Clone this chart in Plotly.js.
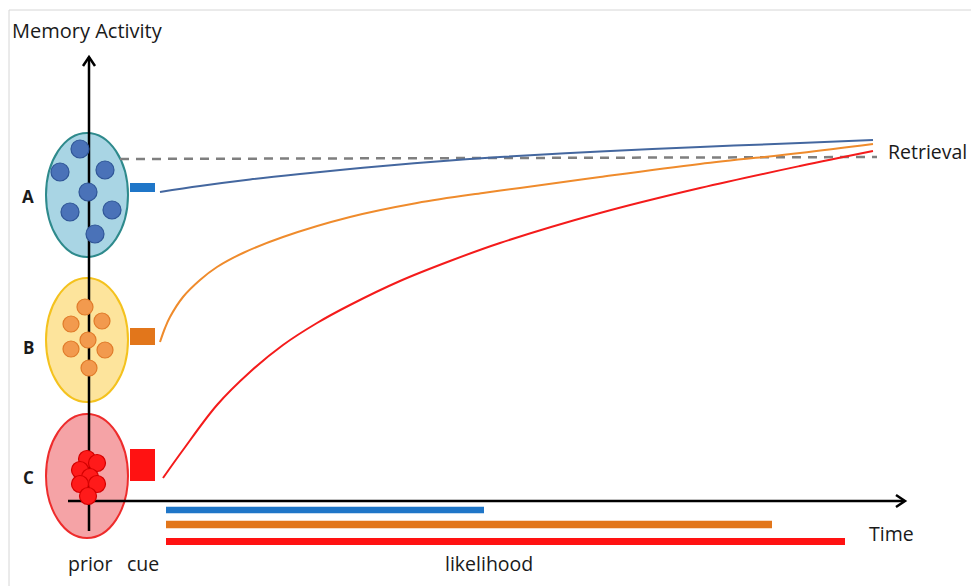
<!DOCTYPE html>
<html>
<head>
<meta charset="utf-8">
<script src="https://cdn.plot.ly/plotly-3.0.1.min.js"></script>
<style>html,body{margin:0;padding:0;background:#fff}#chart{width:971px;height:586px}</style>
</head>
<body>
<div id="chart"></div>
<script>
// ---- Data (diagram units) ----
const memoryLabels = ["A", "B", "C"];
const memoryColors = {fill: ["#a9d5e4", "#fde49c", "#f5a3a6"], edge: ["#2e8a8c", "#f4c21e", "#ee2c2c"]};
const priorCenterY = [195, 340, 476];

// dots inside each prior representation
const dotsA_x = [80, 60, 105, 88, 70, 112, 95];
const dotsA_y = [149, 172, 170, 192, 212, 210, 234];
const dotsB_x = [85, 71, 102, 88, 71, 105, 89];
const dotsB_y = [307, 324, 321, 340, 349, 350, 368];
const dotsC_x = [87, 97, 80, 90, 80, 97, 88];
const dotsC_y = [459, 463, 470, 477, 484, 484, 496];

// cue strength (rectangle heights)
const cueTop = [183, 328, 449];
const cueBottom = [192, 345, 481];

// activity curves over time
const timeA = [160, 200, 250, 300, 350, 400, 450, 500, 600, 700, 800, 873];
const activityA = [192, 186, 179.5, 174, 169, 164.5, 160.5, 157, 151.5, 147, 143, 140];
const timeB = [160, 165, 170, 183, 200, 217, 243, 283, 350, 417, 483, 520, 600, 700, 800, 873];
const activityB = [342, 328, 317, 297, 280, 267, 253, 237, 217, 203, 193, 188, 177, 164, 153, 144];
const timeC = [163, 183, 217, 250, 283, 317, 350, 400, 450, 500, 600, 700, 800, 873];
const activityC = [478, 450, 405, 372, 345, 323, 305, 281, 261, 243, 213, 188, 166, 151];

// retrieval threshold
const thresholdX = [120, 877];
const thresholdY = [159, 157];

// likelihood durations
const likelihoodStart = 166;
const likelihoodEnd = [484, 772, 845];
const likelihoodY = [510, 524.5, 541.5];

const curveColors = ["#44679f", "#ef8b2c", "#f41b1b"];
const cueColors = ["#1f76c8", "#e2761b", "#ff1212"];
const dotFill = ["#4a72b8", "#f29a4e", "#ff1a1a"];
const dotEdge = ["#2f5597", "#e07b2a", "#d40000"];

// ---- Build ----
const FONT = "Open Sans, Liberation Sans, sans-serif";
const traces = [];
// axes lines
const yAxisX = 89, xAxisY = 501;
traces.push({x: [yAxisX, yAxisX], y: [531, 57], mode: "lines", line: {color: "#000", width: 2.5}, hoverinfo: "skip"});
traces.push({x: [68, 904], y: [xAxisY, xAxisY], mode: "lines", line: {color: "#000", width: 2.5}, hoverinfo: "skip"});
// arrow chevrons
traces.push({x: [yAxisX - 6, yAxisX, yAxisX + 6], y: [66, 57, 66], mode: "lines", line: {color: "#000", width: 2.5}, hoverinfo: "skip"});
traces.push({x: [896, 905, 896], y: [495, xAxisY, 507], mode: "lines", line: {color: "#000", width: 2.5}, hoverinfo: "skip"});

// dots
const dotsX = [dotsA_x, dotsB_x, dotsC_x], dotsY = [dotsA_y, dotsB_y, dotsC_y];
const dotSize = [18, 16, 17];
for (let i = 0; i < 3; i++) {
  traces.push({x: dotsX[i], y: dotsY[i], mode: "markers",
    marker: {size: dotSize[i], color: dotFill[i], line: {color: dotEdge[i], width: 1.2}}, hoverinfo: "skip"});
}
// threshold
traces.push({x: thresholdX, y: thresholdY, mode: "lines", line: {color: "#7f7f7f", width: 2.5, dash: "9px,7px"}, hoverinfo: "skip"});
// curves
const tX = [timeA, timeB, timeC], aY = [activityA, activityB, activityC];
for (let i = 0; i < 3; i++) {
  traces.push({x: tX[i], y: aY[i], mode: "lines", line: {color: curveColors[i], width: 2, shape: "spline", smoothing: 1}, hoverinfo: "skip"});
}

const shapes = [];
// frame
shapes.push({type: "line", xref: "x", yref: "y", x0: 9, x1: 975, y0: 10, y1: 10, line: {color: "#d6d6d6", width: 1}});
shapes.push({type: "line", xref: "x", yref: "y", x0: 9, x1: 9, y0: 10, y1: 590, line: {color: "#d6d6d6", width: 1}});
// prior ellipses
for (let i = 0; i < 3; i++) {
  shapes.push({type: "circle", xref: "x", yref: "y", layer: "below",
    x0: 46, x1: 128, y0: priorCenterY[i] - 62, y1: priorCenterY[i] + 62,
    fillcolor: memoryColors.fill[i], opacity: 1, line: {color: memoryColors.edge[i], width: 2}});
}
// cue rectangles
for (let i = 0; i < 3; i++) {
  shapes.push({type: "rect", xref: "x", yref: "y", x0: 130, x1: 155, y0: cueTop[i], y1: cueBottom[i],
    fillcolor: cueColors[i], line: {width: 0}});
}
// likelihood bars
const barHalf = [3.2, 3.8, 3.6];
for (let i = 0; i < 3; i++) {
  shapes.push({type: "rect", xref: "x", yref: "y", x0: likelihoodStart, x1: likelihoodEnd[i],
    y0: likelihoodY[i] - barHalf[i], y1: likelihoodY[i] + barHalf[i], fillcolor: cueColors[i], line: {width: 0}});
}

const txt = (text, x, y, opts = {}) => Object.assign({text, x, y, xref: "x", yref: "y", showarrow: false,
  xanchor: "left", yanchor: "middle", font: {family: FONT, size: 19.5, color: "#1a1a1a"}}, opts);
const annotations = [
  txt("Memory Activity", 10, 30, {font: {family: FONT, size: 20, color: "#1a1a1a"}}),
  txt("Retrieval", 886, 151),
  txt("Time", 867, 533),
  txt("likelihood", 489, 563, {xanchor: "center"}),
  txt("prior", 90, 563, {xanchor: "center"}),
  txt("cue", 143, 563, {xanchor: "center"})
];
for (let i = 0; i < 3; i++) {
  annotations.push(txt("<b>" + memoryLabels[i] + "</b>", 28, [196, 347, 477][i],
    {xanchor: "center", font: {family: FONT, size: 17, color: "#1a1a1a"}}));
}

const layout = {
  width: 971, height: 586, margin: {l: 0, r: 0, t: 0, b: 0},
  paper_bgcolor: "#ffffff", plot_bgcolor: "rgba(0,0,0,0)",
  showlegend: false,
  xaxis: {range: [0, 971], visible: false, fixedrange: true},
  yaxis: {range: [586, 0], visible: false, fixedrange: true},
  shapes, annotations
};
Plotly.newPlot("chart", traces, layout, {displayModeBar: false, staticPlot: true});
</script>
</body>
</html>
